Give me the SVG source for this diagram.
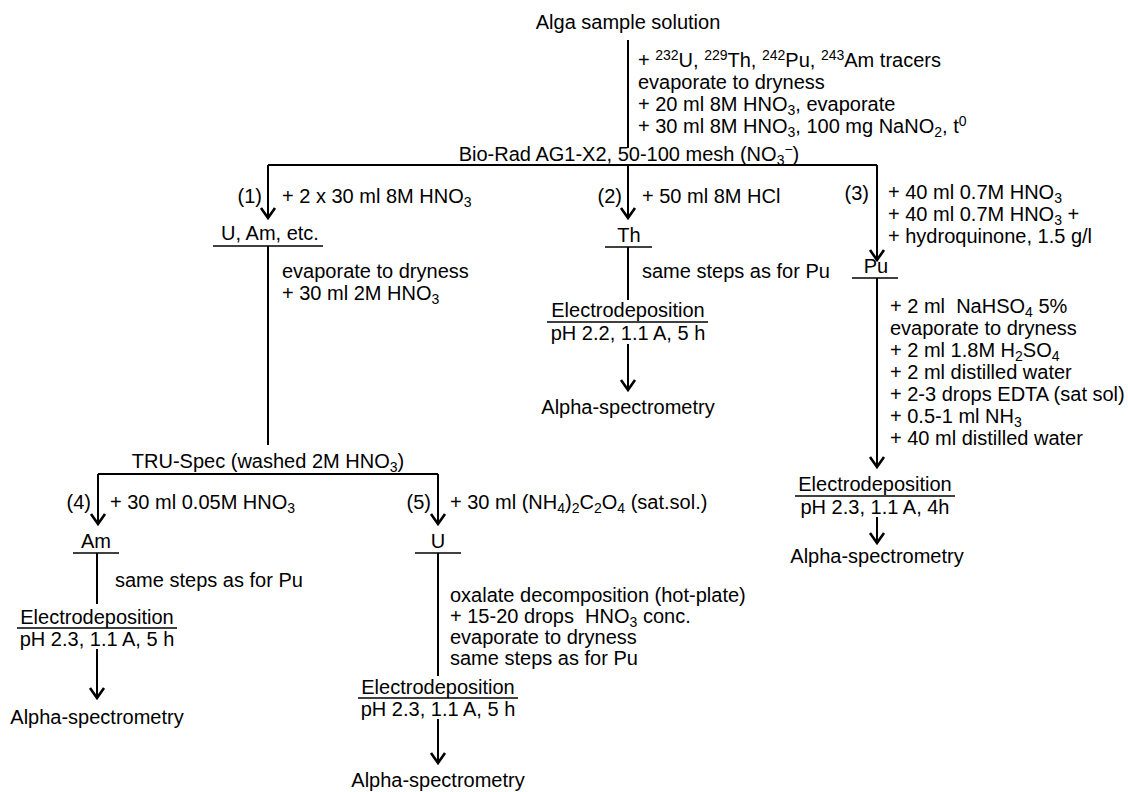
<svg xmlns="http://www.w3.org/2000/svg" width="1128" height="792" viewBox="0 0 1128 792">
<style>
text{font-family:"Liberation Sans",Arial,Helvetica,sans-serif;font-size:20px;fill:#000}
.m{text-anchor:middle}
.e{text-anchor:end}
.s{font-size:14px}
.ln{stroke:#000;stroke-width:2;fill:none}
.ul{stroke:#000;stroke-width:1.6;fill:none}
.ar{stroke:#000;stroke-width:2;fill:none;marker-end:url(#chev)}
</style>
<defs>
<marker id="chev" markerUnits="userSpaceOnUse" viewBox="-2 -9 14 18" markerWidth="14" markerHeight="18" refX="10" refY="0" orient="auto">
<path d="M0,-7 L10,0 L0,7" fill="none" stroke="#000" stroke-width="2.6"/>
</marker>
</defs>
<rect width="1128" height="792" fill="#fff"/>

<g id="connectors">
<line class="ln" x1="628" y1="40" x2="628" y2="148"/>
<line class="ln" x1="268" y1="165" x2="877" y2="165"/>
<line class="ar" x1="268" y1="165" x2="268" y2="218"/>
<line class="ar" x1="628" y1="165" x2="628" y2="218"/>
<line class="ar" x1="877" y1="165" x2="877" y2="260"/>
<line class="ln" x1="268" y1="246" x2="268" y2="445"/>
<line class="ln" x1="628" y1="247" x2="628" y2="300"/>
<line class="ar" x1="628" y1="344" x2="628" y2="390"/>
<line class="ar" x1="877" y1="278" x2="877" y2="467"/>
<line class="ar" x1="877" y1="517" x2="877" y2="543"/>
<line class="ln" x1="98" y1="474" x2="438" y2="474"/>
<line class="ar" x1="98" y1="474" x2="98" y2="524"/>
<line class="ar" x1="438" y1="474" x2="438" y2="524"/>
<line class="ln" x1="97" y1="553" x2="97" y2="604"/>
<line class="ar" x1="97" y1="649" x2="97" y2="698"/>
<line class="ln" x1="438" y1="553" x2="438" y2="676"/>
<line class="ar" x1="438" y1="719" x2="438" y2="763"/>
</g>

<g id="labels">
<text x="638" y="67">+ <tspan class="s" dy="-7">232</tspan><tspan dy="7">U, </tspan><tspan class="s" dy="-7">229</tspan><tspan dy="7">Th, </tspan><tspan class="s" dy="-7">242</tspan><tspan dy="7">Pu, </tspan><tspan class="s" dy="-7">243</tspan><tspan dy="7">Am tracers</tspan></text>
<text x="638" y="89">evaporate to dryness</text>
<text x="638" y="111">+ 20 ml 8M HNO<tspan class="s" dy="4">3</tspan><tspan dy="-4">, evaporate</tspan></text>
<text x="638" y="133">+ 30 ml 8M HNO<tspan class="s" dy="4">3</tspan><tspan dy="-4">, 100 mg NaNO</tspan><tspan class="s" dy="4">2</tspan><tspan dy="-4">, t</tspan><tspan class="s" dy="-7">0</tspan></text>

<text class="e" x="262" y="203">(1)</text>
<text x="282" y="203">+ 2 x 30 ml 8M HNO<tspan class="s" dy="4">3</tspan></text>
<text class="e" x="622" y="203">(2)</text>
<text x="642" y="203">+ 50 ml 8M HCl</text>
<text class="e" x="869" y="200">(3)</text>
<text x="888" y="199">+ 40 ml 0.7M HNO<tspan class="s" dy="4">3</tspan></text>
<text x="888" y="221">+ 40 ml 0.7M HNO<tspan class="s" dy="4">3</tspan><tspan dy="-4"> +</tspan></text>
<text x="888" y="243">+ hydroquinone, 1.5 g/l</text>

<text x="282" y="278">evaporate to dryness</text>
<text x="282" y="300">+ 30 ml 2M HNO<tspan class="s" dy="4">3</tspan></text>

<text x="642" y="278">same steps as for Pu</text>

<text x="890" y="313" xml:space="preserve">+ 2 ml  NaHSO<tspan class="s" dy="4">4</tspan><tspan dy="-4"> 5%</tspan></text>
<text x="890" y="335">evaporate to dryness</text>
<text x="890" y="357">+ 2 ml 1.8M H<tspan class="s" dy="4">2</tspan><tspan dy="-4">SO</tspan><tspan class="s" dy="4">4</tspan></text>
<text x="890" y="379">+ 2 ml distilled water</text>
<text x="890" y="401">+ 2-3 drops EDTA (sat sol)</text>
<text x="890" y="423">+ 0.5-1 ml NH<tspan class="s" dy="4">3</tspan></text>
<text x="890" y="445">+ 40 ml distilled water</text>

<text class="e" x="91" y="509">(4)</text>
<text x="110" y="509">+ 30 ml 0.05M HNO<tspan class="s" dy="4">3</tspan></text>
<text class="e" x="431" y="509">(5)</text>
<text x="450" y="509">+ 30 ml (NH<tspan class="s" dy="4">4</tspan><tspan dy="-4">)</tspan><tspan class="s" dy="4">2</tspan><tspan dy="-4">C</tspan><tspan class="s" dy="4">2</tspan><tspan dy="-4">O</tspan><tspan class="s" dy="4">4</tspan><tspan dy="-4"> (sat.sol.)</tspan></text>

<text x="115" y="587">same steps as for Pu</text>

<text x="450" y="602">oxalate decomposition (hot-plate)</text>
<text x="450" y="623" xml:space="preserve">+ 15-20 drops  HNO<tspan class="s" dy="4">3</tspan><tspan dy="-4"> conc.</tspan></text>
<text x="450" y="644">evaporate to dryness</text>
<text x="450" y="665">same steps as for Pu</text>
</g>

<g id="n-alga"><text class="m" x="628" y="29">Alga sample solution</text></g>

<g id="n-biorad"><text class="m" x="629" y="161">Bio-Rad AG1-X2, 50-100 mesh (NO<tspan class="s" dy="4">3</tspan><tspan class="s" dy="-11">−</tspan><tspan dy="7">)</tspan></text></g>

<g id="n-uam">
<text class="m" x="270" y="240">U, Am, etc.</text>
<line class="ul" x1="213" y1="246" x2="323" y2="246"/>
</g>

<g id="n-th">
<text class="m" x="629" y="242">Th</text>
<line class="ul" x1="605" y1="247" x2="652" y2="247"/>
</g>

<g id="n-pu">
<text class="m" x="876" y="273">Pu</text>
<line class="ul" x1="852" y1="278" x2="898" y2="278"/>
</g>

<g id="n-electro-th">
<text class="m" x="628" y="317">Electrodeposition</text>
<line class="ul" x1="547" y1="322" x2="708" y2="322"/>
<text class="m" x="628" y="340">pH 2.2, 1.1 A, 5 h</text>
</g>
<g id="n-alpha-th"><text class="m" x="628" y="414">Alpha-spectrometry</text></g>

<g id="n-electro-pu">
<text class="m" x="875" y="491">Electrodeposition</text>
<line class="ul" x1="795" y1="496" x2="955" y2="496"/>
<text class="m" x="875" y="514">pH 2.3, 1.1 A, 4h</text>
</g>
<g id="n-alpha-pu"><text class="m" x="877" y="563">Alpha-spectrometry</text></g>

<g id="n-truspec">
<text class="m" x="268" y="468">TRU-Spec (washed 2M HNO<tspan class="s" dy="4">3</tspan><tspan dy="-4">)</tspan></text>
</g>

<g id="n-am">
<text class="m" x="96" y="548">Am</text>
<line class="ul" x1="73" y1="553" x2="119" y2="553"/>
</g>

<g id="n-u">
<text class="m" x="438" y="548">U</text>
<line class="ul" x1="415" y1="553" x2="461" y2="553"/>
</g>

<g id="n-electro-am">
<text class="m" x="97" y="624">Electrodeposition</text>
<line class="ul" x1="17" y1="628" x2="177" y2="628"/>
<text class="m" x="97" y="646">pH 2.3, 1.1 A, 5 h</text>
</g>
<g id="n-alpha-am"><text class="m" x="97" y="724">Alpha-spectrometry</text></g>

<g id="n-electro-u">
<text class="m" x="438" y="694">Electrodeposition</text>
<line class="ul" x1="358" y1="698" x2="518" y2="698"/>
<text class="m" x="438" y="716">pH 2.3, 1.1 A, 5 h</text>
</g>
<g id="n-alpha-u"><text class="m" x="438" y="787">Alpha-spectrometry</text></g>
</svg>
